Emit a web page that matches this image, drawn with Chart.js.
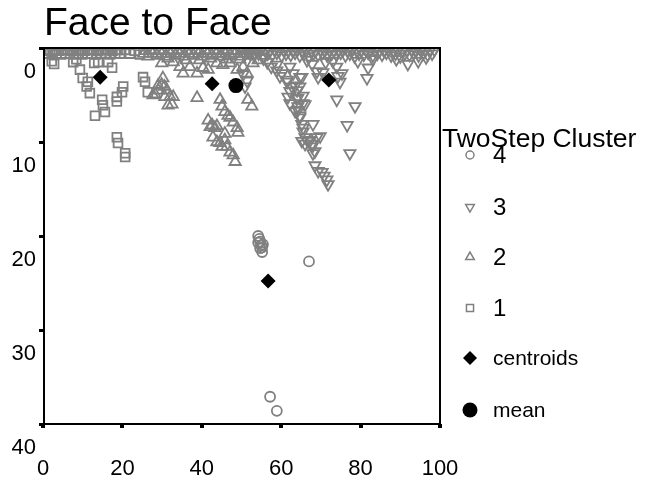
<!DOCTYPE html>
<html>
<head>
<meta charset="utf-8">
<script src="https://cdn.jsdelivr.net/npm/chart.js"></script>
<style>
  body { margin: 0; background: #fff; }
  #wrap { width: 661px; height: 482px; }
</style>
</head>
<body>
<div id="wrap"><canvas id="faceChart" width="661" height="482"></canvas></div>
<script>
// cluster 1 (squares)
const c1X = [1.2, 2.4, 3.4, 4.6, 5.6, 6.8, 7.8, 8.9, 9.9, 11.2, 12.2, 13.4, 14.6, 15.7, 16.9, 18.2, 19.4, 21.9, 24.4,
  0.6, 1.8, 2.9, 4.0, 5.1, 6.2, 7.3, 8.4, 9.4, 10.5, 11.7, 12.8, 13.9, 15.1, 16.3, 17.5, 18.8, 20.6, 23.1,
  2.2, 2.8, 7.6, 8.4, 9.3, 10, 11, 11.3, 11.8, 12.9, 13.9, 16.4, 17.4, 14.9, 15.1, 15.6, 13.1, 18.6, 18.6, 20.2, 19.9,
  25.2, 25.7, 26.4, 18.6, 18.9, 20.7, 20.7];
const c1Y = [0.6, 0.7, 0.6, 0.7, 0.6, 0.6, 0.7, 0.6, 0.7, 0.6, 0.6, 0.7, 0.6, 0.6, 0.7, 0.6, 0.6, 0.6, 0.7,
  0.2, 0.3, 0.2, 0.3, 0.2, 0.2, 0.3, 0.2, 0.2, 0.3, 0.2, 0.2, 0.3, 0.2, 0.2, 0.3, 0.2, 0.2, 0.3,
  1.4, 1.7, 1.5, 1.2, 2.3, 3.2, 4.1, 3.6, 4.8, 1.6, 1.5, 1.5, 2.1, 5.5, 6.1, 6.8, 7.2, 5.2, 5.7, 4.1, 4.7,
  3.1, 3.6, 4.7, 9.5, 10.1, 11.2, 11.6];

// cluster 2 (up triangles)
const c2X = [25.3, 26.4, 27.6, 28.7, 29.9, 31.0, 32.2, 33.3, 34.5, 35.6, 36.8, 37.9, 39.1, 40.2, 41.4, 42.5, 43.7, 44.8, 46.0, 47.1, 48.3, 49.4, 50.6, 51.8,
  25.9, 27.0, 28.1, 29.3, 30.4, 31.6, 32.7, 33.9, 35.0, 36.2, 37.3, 38.5, 39.6, 40.8, 41.9, 43.1, 44.2, 45.4, 46.5, 47.7, 48.8, 50.0, 51.2, 52.4, 53.5,
  29.9, 31.5, 32.8, 34.5, 35.3, 36.1, 37, 38.8, 39.4, 40.3, 41.6, 42.2, 43.8, 45.3, 46.2, 47.1, 48.9, 49.6, 50.4, 51.4, 52.9, 54.2,
  30.2, 29.9, 29.0, 31.2, 27.7, 32.0, 31.5, 30.6, 28.2, 32.5, 30.7, 32.8, 29.0, 38.8,
  44.6, 45.1, 45.8, 46.6, 47.1, 47.9, 48.9, 49.1, 41.6, 42.1, 42.6, 43.3, 43.8, 42.8, 43.8, 44.6, 45.1, 45.8, 45.8, 46.3, 47.1, 47.9, 48.4,
  51.6, 52.6];
const c2Y = [0.6, 0.9, 0.6, 0.8, 0.6, 0.9, 0.6, 0.8, 0.6, 0.9, 0.6, 0.8, 0.6, 0.9, 0.6, 0.8, 0.6, 0.9, 0.6, 0.8, 0.6, 0.9, 0.6, 0.8,
  0.3, 0.2, 0.3, 0.2, 0.3, 0.3, 0.2, 0.3, 0.2, 0.3, 0.3, 0.2, 0.3, 0.2, 0.3, 0.3, 0.2, 0.3, 0.2, 0.3, 0.3, 0.2, 0.3, 0.2, 0.3,
  1.6, 1.1, 1.5, 2.0, 2.7, 1.3, 2.0, 2.7, 1.3, 2.1, 2.3, 1.1, 1.6, 1.8, 1.2, 1.6, 2.3, 1.2, 2.0, 2.7, 1.6, 1.3,
  3.2, 3.9, 4.5, 4.5, 5.0, 5.2, 6.1, 4.1, 4.9, 6.0, 5.2, 5.2, 4.0, 5.3,
  5.5, 6.2, 6.8, 7.2, 7.4, 7.9, 8.5, 9.0, 7.7, 8.4, 8.2, 8.5, 8.3, 9.5, 10.0, 10.1, 10.5, 9.8, 9.1, 10.5, 11.1, 11.4, 12.1,
  5.5, 6.2];

// cluster 3 (down triangles)
const c3X = [50.8, 52.0, 53.2, 54.3, 55.5, 56.6, 57.8, 58.9, 60.1, 61.2, 62.4, 63.5, 64.7, 65.8, 67.0, 68.1, 69.3, 70.4, 71.6, 72.7, 73.9,
  75.0, 76.2, 77.3, 78.5, 79.6, 80.8, 81.9, 83.1, 84.2, 85.4, 86.5, 87.7, 88.8, 90.0, 91.1, 92.3, 93.4, 94.6, 95.7, 96.9, 98.0,
  51.4, 52.6, 53.7, 54.9, 56.0, 57.2, 58.3, 59.5, 60.6, 61.8, 62.9, 64.1, 65.2, 66.4, 67.5, 68.7, 69.8, 71.0, 72.1, 73.3, 74.4,
  75.6, 76.7, 77.9, 79.0, 80.2, 81.3, 82.5, 83.6, 84.8, 85.9, 87.1, 88.2, 89.4, 90.5, 91.7, 92.8, 94.0, 95.1, 96.3, 97.4, 98.6,
  55.5, 56.5, 57.5, 58.9, 58.9, 59.7, 60.2, 61.5, 62.2, 62.7, 63.0, 64.7, 65.2, 61.5, 63.5, 62.2, 64.0, 64.7, 61.7, 63.9, 64.2,
  65.5, 62.2, 64.2, 65.5, 66.0, 63.5, 64.2, 64.7, 64.7, 65.2, 65.5, 68.0, 65.5, 66.0, 69.8, 65.2, 66.7, 67.3, 69.0, 66.0, 67.8,
  67.8, 68.5, 68.0, 68.5, 69.3, 70.3, 70.8, 71.5, 71.8,
  66.5, 67.8, 69.0, 69.3, 70.5, 71.2, 73.0, 74.0, 74.3, 75.3, 74.8,
  74.0, 78.6, 76.6, 77.3, 81.6, 81.9, 79.3, 83.1, 89.0, 91.9, 94.5, 96.5,
  50.4, 51.4, 50.9];
const c3Y = [0.7, 0.5, 0.8, 0.6, 0.9, 0.6, 0.7, 0.5, 0.8, 0.6, 0.7, 0.5, 0.8, 0.6, 0.9, 0.6, 0.7, 0.5, 0.8, 0.6, 0.7,
  0.5, 0.8, 0.6, 0.9, 0.6, 0.7, 0.5, 0.8, 0.6, 0.7, 0.5, 0.8, 0.6, 0.9, 0.6, 0.7, 0.5, 0.8, 0.6, 0.7, 0.6,
  0.3, 0.2, 0.3, 0.2, 0.3, 0.3, 0.2, 0.3, 0.2, 0.3, 0.3, 0.2, 0.3, 0.2, 0.3, 0.3, 0.2, 0.3, 0.2, 0.3, 0.3,
  0.2, 0.3, 0.2, 0.3, 0.3, 0.2, 0.3, 0.2, 0.3, 0.3, 0.2, 0.3, 0.2, 0.3, 0.3, 0.2, 0.3, 0.2, 0.3, 0.3, 0.2,
  1.1, 1.5, 2.0, 1.8, 2.4, 3.0, 2.7, 3.4, 2.0, 4.1, 2.7, 3.1, 3.1, 3.6, 4.0, 4.6, 4.5, 4.1, 5.2, 5.4, 5.3,
  5.1, 5.9, 6.2, 5.9, 6.0, 6.7, 6.6, 7.2, 7.4, 8.1, 8.5, 8.1, 8.9, 9.5, 9.4, 9.9, 9.9, 9.8, 9.5, 10.2, 10.2,
  10.5, 11.0, 11.2, 12.5, 13.1, 13.2, 13.6, 14.0, 14.5,
  1.3, 1.7, 2.5, 3.1, 2.6, 1.5, 1.4, 2.0, 3.0, 2.7, 3.6,
  5.5, 6.2, 8.2, 11.2, 3.2, 2.1, 1.4, 1.2, 1.2, 1.7, 1.4, 1.0,
  2.8, 3.5, 4.1];

// cluster 4 (circles)
const c4X = [54.2, 54.7, 55.2, 54.2, 55.4, 54.7, 55.2, 54.5, 55.0, 67.0, 57.2, 58.9];
const c4Y = [20.0, 20.6, 21.2, 20.7, 20.9, 21.3, 21.7, 20.3, 21.0, 22.7, 37.1, 38.6];

const centroidX = [14.4, 42.6, 72.0, 56.7];
const centroidY = [3.1, 3.8, 3.4, 24.8];
const meanX = [48.6];
const meanY = [4.0];

const xTicks = [0, 20, 40, 60, 80, 100];
const yTicks = [0, 10, 20, 30, 40];
const legendLabels = ['4', '3', '2', '1', 'centroids', 'mean'];

function pts(xs, ys) {
  return xs.map((x, i) => ({x: x, y: ys[i]}));
}

const GRAY = '#808080';
const FONT = '"Liberation Sans", Arial, sans-serif';

const outline = {
  backgroundColor: 'rgba(0,0,0,0)',
  borderColor: GRAY,
  borderWidth: 1.8,
  clip: 0
};

// frame, title and legend
const decorPlugin = {
  id: 'decor',
  afterDraw(chart) {
    const ctx = chart.ctx;
    const a = chart.chartArea;
    ctx.save();
    ctx.strokeStyle = '#000';
    ctx.lineWidth = 2;
    ctx.strokeRect(a.left + 1, a.top, a.right - a.left - 1, a.bottom - a.top);

    ctx.fillStyle = '#000';
    ctx.textBaseline = 'alphabetic';
    ctx.font = '39px ' + FONT;
    ctx.fillText('Face to Face', 44, 35);

    ctx.font = '26.5px ' + FONT;
    ctx.fillText('TwoStep Cluster', 442, 147);

    const mx = 470, tx = 493;
    const ys = [155, 207, 257, 308, 358, 410];
    const styles = [
      {pointStyle: 'circle', radius: 4, rotation: 0, fill: false},
      {pointStyle: 'triangle', radius: 5, rotation: 180, fill: false},
      {pointStyle: 'triangle', radius: 5, rotation: 0, fill: false},
      {pointStyle: 'rect', radius: 5, rotation: 0, fill: false},
      {pointStyle: 'rectRot', radius: 7, rotation: 0, fill: true},
      {pointStyle: 'circle', radius: 7.5, rotation: 0, fill: true}
    ];
    ctx.textBaseline = 'middle';
    legendLabels.forEach((lab, i) => {
      const s = styles[i];
      ctx.strokeStyle = s.fill ? '#000' : GRAY;
      ctx.fillStyle = s.fill ? '#000' : 'rgba(0,0,0,0)';
      ctx.lineWidth = s.fill ? 0.01 : 1.5;
      Chart.helpers.drawPoint(ctx, {pointStyle: s.pointStyle, radius: s.radius, rotation: s.rotation, borderWidth: ctx.lineWidth}, mx, ys[i]);
      ctx.fillStyle = '#000';
      ctx.font = (i < 4 ? '24px ' : '21px ') + FONT;
      ctx.fillText(lab, tx, ys[i] + 1);
    });
    ctx.restore();
  }
};

new Chart(document.getElementById('faceChart'), {
  type: 'scatter',
  data: {
    datasets: [
      {label: 'mean', data: pts(meanX, meanY), pointStyle: 'circle', pointRadius: 7.5,
        backgroundColor: '#000', borderColor: '#000', borderWidth: 0, clip: false},
      {label: 'centroids', data: pts(centroidX, centroidY), pointStyle: 'rectRot', pointRadius: 7.5,
        backgroundColor: '#000', borderColor: '#000', borderWidth: 0, clip: false},
      Object.assign({label: '1', data: pts(c1X, c1Y), pointStyle: 'rect', pointRadius: 6.2}, outline),
      Object.assign({label: '2', data: pts(c2X, c2Y), pointStyle: 'triangle', pointRadius: 6.5}, outline),
      Object.assign({label: '3', data: pts(c3X, c3Y), pointStyle: 'triangle', pointRotation: 180, pointRadius: 6.5}, outline),
      Object.assign({label: '4', data: pts(c4X, c4Y), pointStyle: 'circle', pointRadius: 5}, outline)
    ]
  },
  options: {
    responsive: false,
    animation: false,
    devicePixelRatio: 1,
    layout: {padding: {top: 48, right: 221, bottom: 0, left: 0}},
    plugins: {
      legend: {display: false},
      title: {display: false},
      tooltip: {enabled: false}
    },
    scales: {
      x: {
        type: 'linear',
        min: 0,
        max: 100,
        afterBuildTicks: (scale) => { scale.ticks = xTicks.map(v => ({value: v})); },
        afterFit: (scale) => { scale.height = 58; },
        border: {display: false},
        grid: {drawOnChartArea: false, drawTicks: true, tickLength: 4, lineWidth: 4, color: '#000'},
        ticks: {color: '#000', font: {family: FONT, size: 22}, padding: 28, maxRotation: 0}
      },
      y: {
        type: 'linear',
        reverse: true,
        min: 0,
        max: 40,
        afterBuildTicks: (scale) => { scale.ticks = yTicks.map(v => ({value: v})); },
        afterFit: (scale) => { scale.width = 43; },
        border: {display: false},
        grid: {drawOnChartArea: false, drawTicks: true, tickLength: 4, lineWidth: 3, color: '#000'},
        ticks: {color: '#000', font: {family: FONT, size: 22}, padding: 3, labelOffset: 24}
      }
    }
  },
  plugins: [decorPlugin]
});
</script>
</body>
</html>
